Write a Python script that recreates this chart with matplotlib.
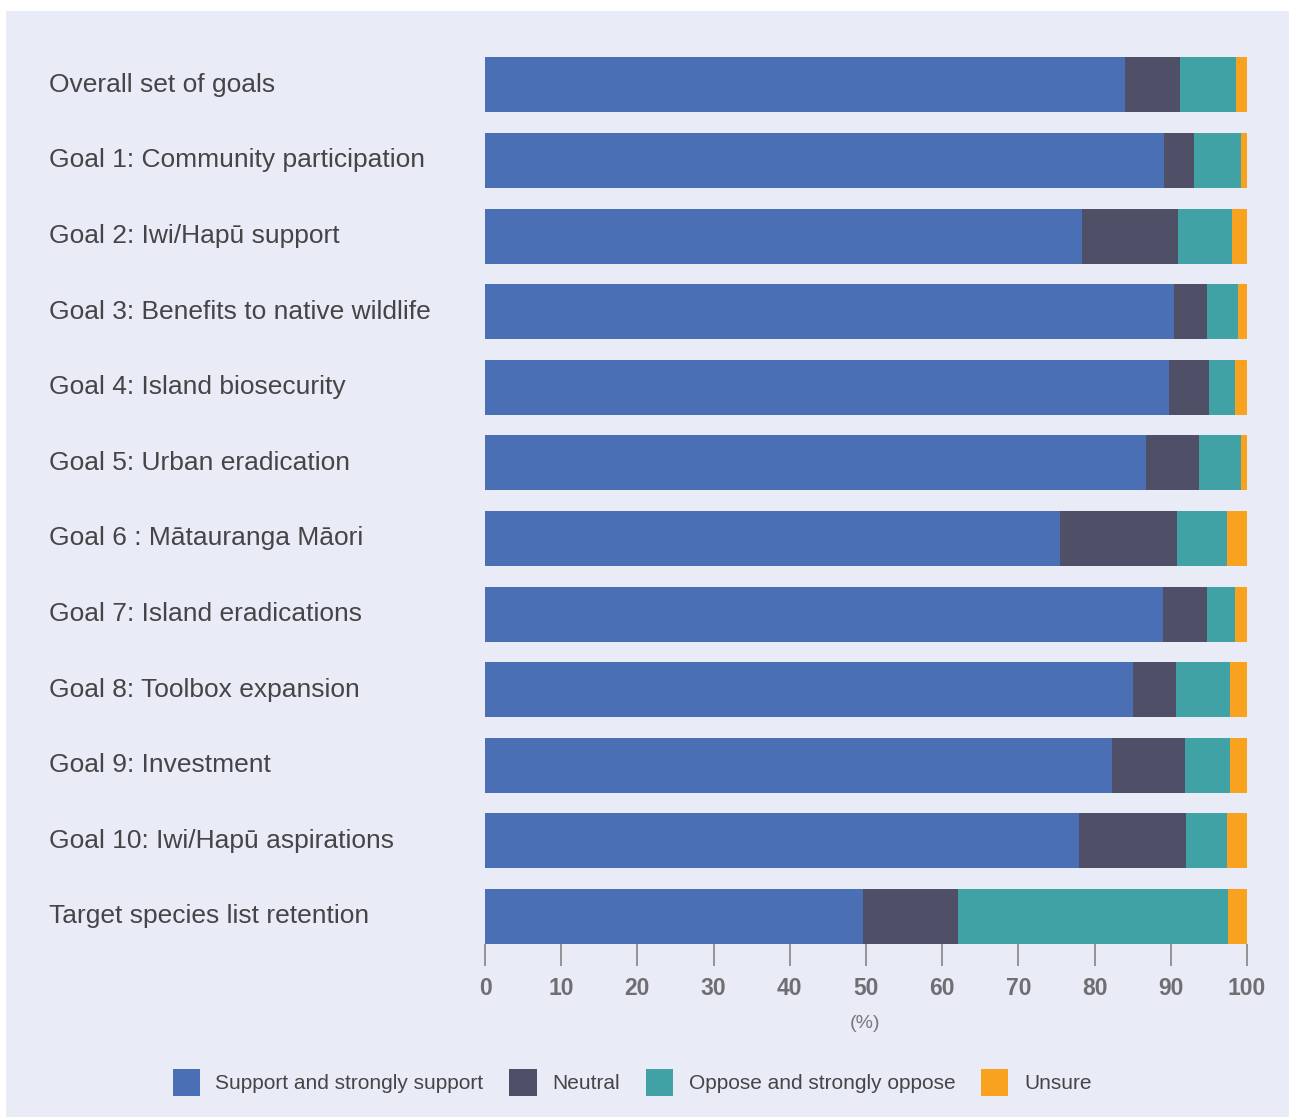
import matplotlib
matplotlib.use("Agg")
import matplotlib.pyplot as plt
import matplotlib.patches as mpatches
import matplotlib.transforms as mtransforms
import numpy as np

# ---------------------------------------------------------------------------
# Data (percent of respondents)
# ---------------------------------------------------------------------------
categories = [
    "Overall set of goals",
    "Goal 1: Community participation",
    "Goal 2: Iwi/Hapū support",
    "Goal 3: Benefits to native wildlife",
    "Goal 4: Island biosecurity",
    "Goal 5: Urban eradication",
    "Goal 6 : Mātauranga Māori",
    "Goal 7: Island eradications",
    "Goal 8: Toolbox expansion",
    "Goal 9: Investment",
    "Goal 10: Iwi/Hapū aspirations",
    "Target species list retention",
]
support = [84.0, 89.1, 78.3, 90.4, 89.8, 86.7, 75.5, 89.0, 85.0, 82.3, 78.0, 49.6]
neutral = [7.2, 3.9, 12.6, 4.4, 5.2, 7.0, 15.3, 5.8, 5.7, 9.6, 14.0, 12.5]
oppose = [7.4, 6.2, 7.1, 4.0, 3.4, 5.5, 6.6, 3.6, 7.1, 5.9, 5.4, 35.4]
unsure = [1.4, 0.8, 2.0, 1.2, 1.6, 0.8, 2.6, 1.6, 2.2, 2.2, 2.6, 2.5]

series_names = ["Support and strongly support", "Neutral",
                "Oppose and strongly oppose", "Unsure"]
colors = ["#4A6FB5", "#4F5068", "#41A2A5", "#F9A21F"]

# ---------------------------------------------------------------------------
# Layout
# ---------------------------------------------------------------------------
W, H = 1289, 1117
BG = "#E9EBF6"
fig = plt.figure(figsize=(W / 100, H / 100), dpi=100)
fig.patch.set_facecolor("white")
fig.patches.append(mpatches.Rectangle((6 / W, 0), 1 - 6 / W, 1 - 11 / H,
                                      transform=fig.transFigure,
                                      facecolor=BG, edgecolor="none", zorder=-10))

pitch = 75.6       # px per row
bar_h = 55 / pitch
top_px, bot_px = 20, 944
ax = fig.add_axes([485 / W, 1 - bot_px / H, (1247 - 485) / W, (bot_px - top_px) / H])
ax.set_facecolor("none")

n = len(categories)
y = np.arange(n)[::-1]
left = np.zeros(n)
for vals, name, c in zip([support, neutral, oppose, unsure], series_names, colors):
    ax.barh(y, vals, left=left, height=bar_h, color=c, label=name, linewidth=0)
    left = left + np.array(vals)

ax.set_xlim(0, 100)
lo = -bar_h / 2
ax.set_ylim(lo, lo + (bot_px - top_px) / pitch)
for s in ax.spines.values():
    s.set_visible(False)
ax.set_yticks([])
ax.set_xticks(range(0, 101, 10))
ax.tick_params(axis="x", length=16, width=1.3, color="#8C8C90", pad=8,
               labelsize=16.5, labelcolor="#6E6E73")
for lab in ax.get_xticklabels():
    lab.set_fontfamily(["Liberation Sans Narrow", "Liberation Sans", "DejaVu Sans"])
    lab.set_fontweight("bold")

# Category labels, left aligned in figure space
trans = mtransforms.blended_transform_factory(fig.transFigure, ax.transData)
for yi, cat in zip(y, categories):
    ax.text(49 / W, yi, cat, transform=trans, ha="left", va="center",
            fontsize=19, color="#454548", family=["Liberation Sans", "DejaVu Sans"])

fig.text(865 / W, 1 - 1023 / H, "(%)", ha="center", va="center", fontsize=14,
         color="#77777C", family=["Liberation Sans Narrow", "Liberation Sans"])

handles = [mpatches.Patch(facecolor=c, edgecolor="none") for c in colors]
fig.legend(handles, series_names, loc="center", bbox_to_anchor=(632 / W, 1 - 1082 / H),
           ncol=4, frameon=False, handlelength=1.3, handleheight=1.3,
           handletextpad=0.75, columnspacing=1.25, labelcolor="#454548",
           prop={"family": ["Liberation Sans", "DejaVu Sans"], "size": 15})
for h in fig.legends[0].legend_handles:
    h.set_height(27 * 72 / 100)
    h.set_y(h.get_y() - 2.5 * 72 / 100)

fig.savefig("out.png", dpi=100)
